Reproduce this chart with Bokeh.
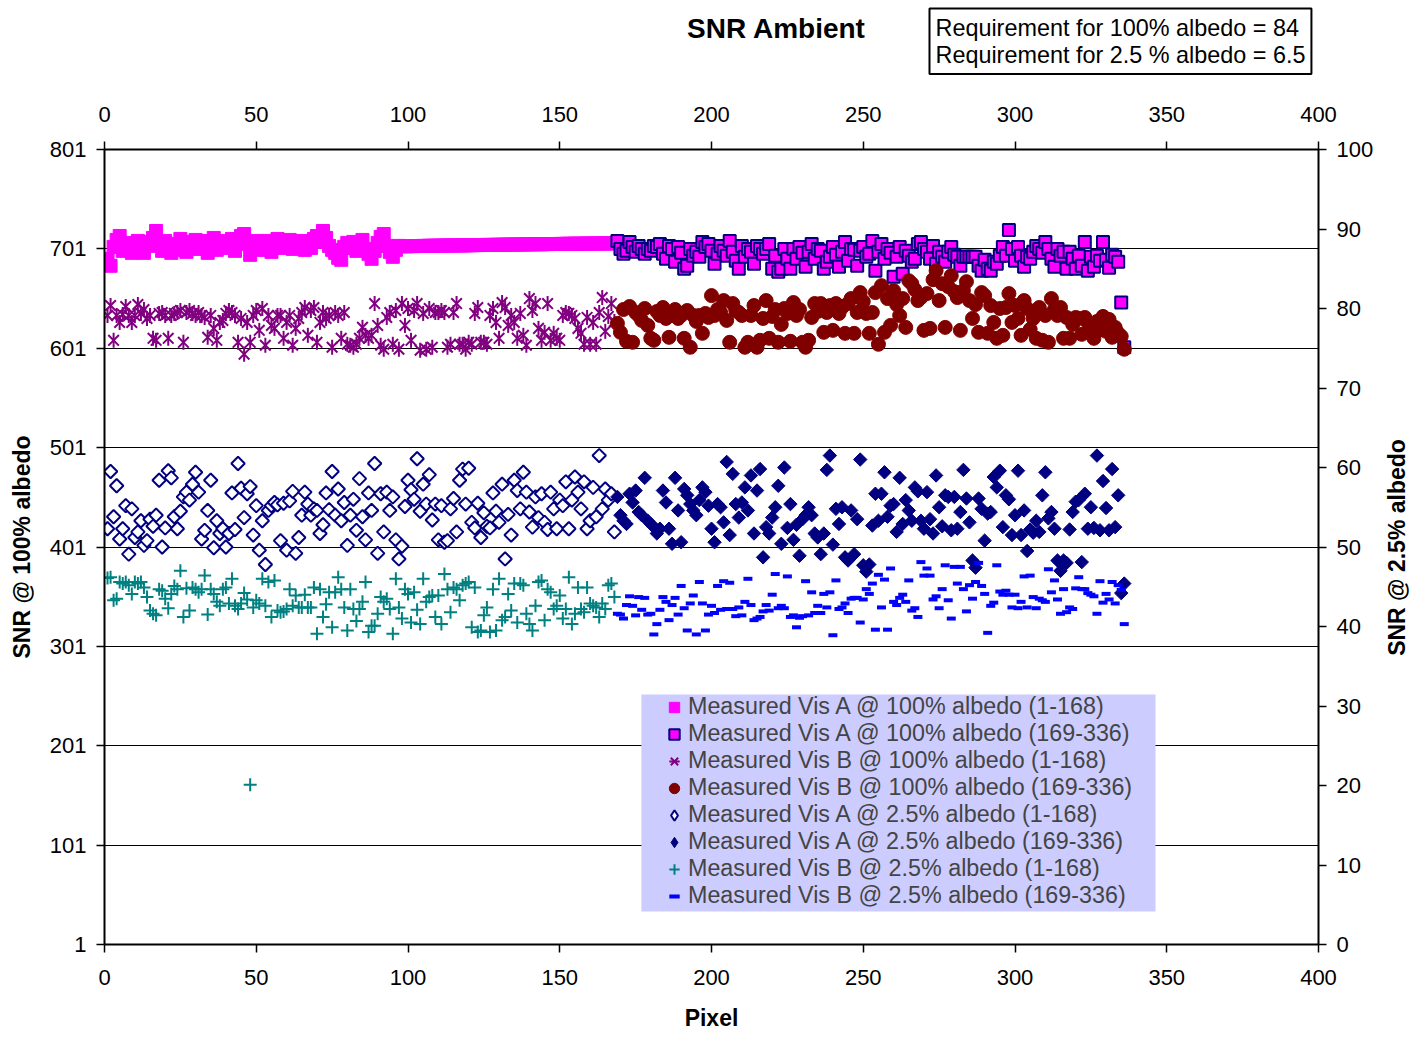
import math
from bokeh.plotting import figure
from bokeh.models import Range1d, LinearAxis, FixedTicker, Legend, LegendItem, Label, BoxAnnotation
from bokeh.embed import file_html
from bokeh.resources import INLINE

# ---------------- data ----------------
x_ticks = [0, 50, 100, 150, 200, 250, 300, 350, 400]
left_ticks = [1, 101, 201, 301, 401, 501, 601, 701, 801]
right_ticks = [0, 10, 20, 30, 40, 50, 60, 70, 80, 90, 100]

visA100_1 = [
    691, 684, 703, 710, 714, 699, 707, 703, 697, 706,
    709, 701, 697, 708, 704, 712, 719, 707, 699, 709,
    702, 697, 706, 700, 711, 704, 698, 708, 703, 710,
    701, 705, 709, 697, 706, 712, 700, 707, 702, 709,
    704, 711, 699, 706, 714, 716, 707, 695, 703, 709,
    700, 707, 703, 709, 698, 706, 711, 702, 708, 703,
    710, 701, 707, 704, 709, 700, 706, 702, 711, 714,
    708, 719, 712, 704, 700, 697, 692, 690, 703, 707,
    702, 708, 699, 705, 710, 701, 696, 691, 699, 707,
    713, 716, 704, 698, 693, 700, 704,
    703.6, 703.7, 703.7, 703.8, 703.8, 703.9, 703.9, 704.0, 704.0, 704.1,
    704.1, 704.2, 704.2, 704.3, 704.3, 704.4, 704.4, 704.5, 704.5, 704.5,
    704.6, 704.6, 704.7, 704.7, 704.8, 704.8, 704.9, 704.9, 705.0, 705.0,
    705.0, 705.1, 705.1, 705.2, 705.2, 705.3, 705.3, 705.4, 705.4, 705.4,
    705.5, 705.5, 705.6, 705.6, 705.7, 705.7, 705.7, 705.8, 705.8, 705.9,
    705.9, 705.9, 706.0, 706.0, 706.1, 706.1, 706.1, 706.2, 706.2, 706.2,
    706.3, 706.3, 706.3, 706.4, 706.4, 706.4, 706.5, 706.5, 706.5, 706.6, 706.6,
]

visA100_2 = [
    709, 701, 696, 699, 708, 703, 698, 704, 701, 696,
    701, 699, 704, 703, 706, 696, 691, 704, 701, 688,
    703, 697, 681, 684, 701, 694, 698, 693, 708, 703,
    706, 699, 686, 696, 704, 699, 694, 709, 698, 689,
    681, 704, 693, 701, 698, 686, 704, 701, 696, 701,
    706, 681, 694, 678, 681, 701, 691,
    681, 701, 691, 703, 697, 683, 698, 706, 691, 701,
    699, 681, 688, 693, 703, 695, 683, 698, 708, 689,
    701, 700, 684, 699, 703, 693, 696, 709, 679, 698,
    706, 691, 701, 697, 673, 693, 703, 676, 699, 694,
    688, 691, 706, 708, 701, 698, 691, 704, 686, 698,
    693, 688, 698, 703, 695, 693, 684, 693, 693, 693,
    693, 693, 684, 679, 690, 681, 679, 688, 686, 694,
    703, 694, 720, 701, 689, 703, 694, 683, 693, 691,
    698, 704, 701, 697, 708, 701, 691, 683, 701, 694,
    698, 681, 698, 691, 681, 694, 684, 708, 679, 693,
    683, 694, 689, 708, 690, 682, 695, 693, 688, 647,
    602,
]

visB100_1 = [
    634, 644, 609, 634, 627, 635, 643, 634, 627, 634,
    645, 636, 640, 631, 634, 611, 609, 636, 637, 634,
    611, 634, 636, 637, 639, 607, 637, 639, 636, 634,
    637, 634, 632, 612, 634, 621, 609, 627, 629, 636,
    639, 637, 634, 607, 631, 595, 627, 607, 634, 639,
    619, 641, 604, 634, 624, 621, 634, 634, 611, 627,
    634, 604, 621, 631, 637, 642, 614, 639, 642, 607,
    627, 637, 631, 634, 602, 637, 634, 611, 637, 605,
    604, 602, 605, 611, 622, 614, 611, 614, 646, 624,
    604, 600, 632, 637, 605, 639, 600, 646, 624, 641,
    609, 639, 646, 599, 636, 600, 641, 602, 637, 637,
    639, 637, 602, 605, 637, 646, 605, 605, 600, 607,
    605, 636, 642, 607, 607, 605, 634, 641, 627, 611,
    647, 642, 624, 634, 627, 611, 636, 614, 604, 651,
    639, 646, 621, 609, 617, 646, 609, 616, 611, 609,
    634, 637, 636, 634, 631, 621, 616, 605, 632, 605,
    627, 605, 637, 652, 618, 633, 646, 628,
]

visB100_2 = [
    626, 617, 640, 608, 643, 607, 637, 634, 629, 641,
    624, 611, 609, 638, 634, 642, 631, 612, 636, 640,
    631, 634, 611, 639, 602, 634, 628, 634, 616, 636,
    632, 654, 634, 640, 637, 649, 629, 607, 646, 639,
    637, 634, 602, 607, 634, 644, 602, 609, 631, 649,
    611, 633, 640, 607, 625, 641, 636, 608,
    647, 634, 640, 607, 602, 609, 632, 646, 638, 646,
    617, 637, 644, 619, 646, 636, 642, 616, 646, 651,
    616, 637, 657, 648, 636, 616, 637, 657, 605, 664,
    617, 651, 624, 659, 645, 634, 651, 622, 669, 666,
    660, 649, 652, 619, 656, 621, 670, 679, 649, 666,
    622, 663, 674, 658, 652, 619, 659, 668, 649, 631,
    645, 617, 657, 654, 616, 644, 627, 611, 641, 614,
    642, 656, 627, 644, 631, 614, 649, 641, 620, 631,
    611, 642, 609, 634, 607, 651, 640, 634, 642, 611,
    632, 611, 625, 632, 631, 615, 632, 627, 616, 611,
    628, 620, 633, 618, 630, 612, 622, 616, 613, 600,
]

visA25_1 = [
    52.3, 59.5, 53.8, 57.7, 51.0, 52.3, 55.2, 49.1, 54.8, 51.2,
    51.9, 53.3, 50.2, 50.8, 53.5, 52.6, 54.0, 58.4, 50.0, 52.4,
    59.6, 58.7, 53.8, 52.3, 54.5, 56.3, 56.9, 55.9, 57.9, 59.4,
    56.9, 51.0, 52.1, 54.6, 58.4, 49.9, 53.3, 51.7, 52.3, 50.0,
    51.7, 56.8, 52.2, 60.5, 57.4, 53.7, 56.7, 57.6, 51.5, 55.2,
    49.6, 53.3, 47.8, 54.6, 55.2, 55.6, 55.3, 50.8, 55.5, 49.6,
    55.8, 57.0, 49.2, 51.2, 54.0, 56.9, 55.4, 54.0, 54.8, 54.6,
    51.7, 52.8, 56.8, 54.7, 59.5, 54.0, 57.3, 53.3, 55.6, 50.2,
    54.0, 56.0, 52.1, 58.6, 53.8, 50.9, 56.8, 54.6, 60.5, 49.2,
    56.7, 51.9, 56.9, 54.6, 56.3, 50.9, 48.5, 50.1, 55.1, 58.4,
    57.2, 56.0, 61.1, 54.5, 57.9, 55.4, 59.1, 53.4, 55.4, 50.9,
    55.2, 50.6,
    50.8, 54.8, 56.1, 51.9, 58.4, 59.8, 55.4, 59.9, 53.1, 52.4,
    55.5, 51.2, 54.3, 52.6, 52.4, 56.8, 54.5, 53.1, 57.9, 48.5,
    54.1, 51.5, 58.4, 57.1, 54.8, 59.4, 56.9, 54.4, 52.5, 56.3,
    53.7, 56.7, 53.1, 52.2, 56.9, 54.8, 52.3, 55.9, 55.2, 58.2,
    52.3, 55.9, 58.8, 56.9, 54.8, 58.2, 52.3, 53.3, 57.5, 53.8,
    61.5, 54.8, 57.3, 55.9, 56.7, 51.9,
]

visA25_2 = [
    56.3, 54.0, 53.3, 52.9, 56.7, 55.6, 57.1, 54.4, 54.0, 58.7,
    53.3, 52.9, 52.5, 51.7, 52.3, 57.1, 55.6, 52.3, 50.4, 58.7,
    54.6, 50.6, 57.3, 56.5, 55.4, 54.6, 54.0, 55.9, 57.5, 56.9,
    55.2, 52.3, 50.6, 55.4, 55.0, 53.1, 60.7, 51.5, 59.2, 55.4,
    53.7, 55.6, 57.5, 54.6, 59.0, 51.7, 57.1, 59.8, 48.7, 52.5,
    51.7, 53.7, 55.0, 57.7, 50.4, 60.0,
    52.4, 55.4, 50.9, 52.8, 48.9, 53.5, 54.0, 55.0, 54.0, 51.7,
    51.2, 49.1, 51.7, 59.7, 61.5, 50.3, 54.8, 52.9, 55.0, 48.7,
    48.3, 54.6, 49.1, 53.5, 61.0, 47.7, 46.9, 47.8, 52.7, 56.7,
    53.3, 56.7, 59.4, 53.8, 55.2, 55.4, 51.9, 58.7, 52.9, 55.9,
    54.6, 53.3, 57.5, 57.0, 53.3, 52.3, 56.9, 53.5, 51.7, 59.0,
    55.0, 52.6, 56.5, 56.3, 52.1, 56.3, 52.3, 54.4, 59.7, 56.1,
    53.1, 48.3, 47.4, 56.1, 54.8, 50.8, 54.2, 54.4, 58.8, 57.5,
    59.6, 52.5, 56.5, 56.0, 51.5, 54.0, 59.6, 51.5, 54.6, 49.5,
    52.2, 51.8, 53.3, 51.9, 56.5, 59.4, 53.6, 54.4, 52.3, 48.3,
    47.0, 48.3, 48.0, 52.2, 54.4, 55.7, 55.9, 48.1, 56.7, 52.3,
    55.0, 52.4, 61.5, 52.1, 58.3, 54.9, 52.1, 59.8, 52.5, 56.5,
    44.2, 45.4,
]

visB25_1 = [
    46.1, 46.2, 43.3, 43.5, 45.6, 45.4, 45.6, 45.2, 44.1, 45.6,
    45.4, 45.6, 44.9, 43.7, 42.0, 41.6, 41.4, 44.7, 44.5, 43.5,
    42.3, 44.1, 45.1, 44.7, 47.0, 41.2, 44.8, 42.0, 44.9, 44.7,
    44.3, 44.7, 46.4, 41.5, 44.7, 44.1, 43.1, 42.6, 44.7, 44.9,
    42.9, 46.0, 42.6, 42.2, 42.9, 44.2, 43.4, 20.1, 42.4, 43.3,
    42.9, 46.0, 42.6, 45.6, 41.2, 45.8, 42.0, 41.8, 41.9, 42.2,
    44.7, 42.6, 43.9, 42.4, 42.4, 44.0, 42.4, 42.4, 44.9, 39.1,
    44.7, 41.2, 42.8, 44.3, 39.9, 44.3, 46.2, 44.7, 42.4, 39.5,
    44.7, 42.2, 40.7, 42.2, 43.1, 45.6, 39.3, 40.1, 40.1, 41.6,
    43.7, 43.1, 43.5, 42.2, 39.1, 46.0, 42.4, 41.0, 44.7, 44.1,
    40.5, 44.3, 42.1, 40.3, 46.0, 43.1, 43.7, 43.9, 41.2, 43.9,
    40.3, 46.6, 44.7, 41.8, 44.9, 44.7, 43.3, 45.2, 45.4, 45.6,
    39.9, 44.9, 39.3, 39.5, 41.4, 42.4, 39.3, 44.7, 39.5, 46.0,
    40.8, 41.2, 44.1, 42.0, 45.4, 40.5, 45.4, 45.2, 41.6, 40.3,
    39.5, 42.6, 45.6, 45.8, 40.8, 44.7, 44.3, 42.2, 42.6, 43.9,
    41.0, 42.2, 46.2, 40.3, 41.6, 44.9, 42.2, 41.8, 44.9, 42.9,
    42.6, 42.4, 41.2, 42.9, 42.2, 45.2, 45.4, 43.7,
]

visB25_2 = [
    41.6, 41.5, 41.0, 42.7, 43.8, 42.6, 41.4, 43.7, 42.1, 43.6,
    41.5, 41.6, 39.0, 40.3, 42.1, 43.7, 43.1, 40.8, 42.7, 43.6,
    41.5, 45.1, 42.3, 39.5, 42.9, 43.9, 39.0, 45.6, 42.9, 39.5,
    41.5, 42.6, 41.7, 45.1, 42.1, 45.7, 42.2, 45.5, 42.2, 41.3,
    42.4, 41.4, 43.1, 46.0, 42.7, 40.8, 41.0, 41.2, 41.9, 42.7,
    42.0, 44.0, 46.6, 42.3,
    42.6, 42.3, 46.3, 41.2, 41.4, 39.9, 41.1, 41.3, 45.7, 41.4,
    44.3, 41.7, 42.6, 41.7, 44.1, 42.4, 44.3, 38.9, 45.8, 42.2,
    42.4, 42.9, 41.7, 43.5, 43.6, 43.6, 40.5, 43.4, 44.7, 44.1,
    45.4, 39.6, 46.5, 42.4, 45.9, 39.6, 47.3, 43.1, 42.7, 43.6,
    44.0, 43.1, 45.8, 42.0, 42.3, 41.2, 48.1, 46.4, 47.3, 46.4,
    43.4, 43.8, 42.3, 44.7, 47.7, 43.3, 41.0, 47.5, 45.4, 47.5,
    44.7, 41.9, 45.2, 43.5, 45.6, 48.0, 45.1, 44.1, 39.2, 42.6,
    43.0, 47.7, 44.4, 44.0, 44.5, 44.0, 42.4, 44.0, 42.3, 43.1,
    46.3, 42.4, 46.4, 43.7, 42.3, 43.5, 43.3, 43.1, 47.2, 44.3,
    45.8, 43.4, 41.6, 44.7, 41.8, 42.4, 42.2, 44.8, 46.2, 44.7,
    44.7, 44.2, 44.0, 43.8, 41.6, 45.7, 43.0, 44.1, 43.4, 45.6,
    42.9, 45.2, 44.6, 40.3,
]

labels = [
    "Measured Vis A @ 100% albedo (1-168)",
    "Measured Vis A @ 100% albedo (169-336)",
    "Measured Vis B @ 100% albedo (1-168)",
    "Measured Vis B @ 100% albedo (169-336)",
    "Measured Vis A @ 2.5% albedo (1-168)",
    "Measured Vis A @ 2.5% albedo (169-336)",
    "Measured Vis B @ 2.5% albedo (1-168)",
    "Measured Vis B @ 2.5% albedo (169-336)",
]

def first(vals):
    return list(range(1, 1 + len(vals)))

def second(vals):
    return list(range(169, 169 + len(vals)))

FONT = "Liberation Sans"

p = figure(width=1416, height=1037, x_range=Range1d(0, 400), y_range=Range1d(1, 801),
           output_backend="svg", toolbar_location=None,
           min_border_left=104, min_border_right=98, min_border_top=149, min_border_bottom=93)
p.extra_y_ranges = {"right": Range1d(0, 100)}
p.outline_line_color = None
p.background_fill_color = "white"
p.border_fill_color = "white"

p.xgrid.visible = False
p.ygrid.ticker = FixedTicker(ticks=left_ticks)
p.ygrid.grid_line_color = "#000000"
p.ygrid.grid_line_width = 1

bottom_axis = p.below[0]
left_axis = p.left[0]
top_axis = LinearAxis()
right_axis = LinearAxis(y_range_name="right")
p.add_layout(top_axis, "above")
p.add_layout(right_axis, "right")

bottom_axis.ticker = FixedTicker(ticks=x_ticks)
top_axis.ticker = FixedTicker(ticks=x_ticks)
left_axis.ticker = FixedTicker(ticks=left_ticks)
right_axis.ticker = FixedTicker(ticks=right_ticks)
bottom_axis.axis_label = "Pixel"
left_axis.axis_label = "SNR @ 100% albedo"

for ax in [bottom_axis, left_axis, top_axis, right_axis]:
    ax.axis_line_color = "black"
    ax.axis_line_width = 2
    ax.major_tick_line_color = "black"
    ax.major_tick_line_width = 1.5
    ax.major_tick_out = 8
    ax.major_tick_in = 0
    ax.minor_tick_line_color = None
    ax.major_label_text_font = FONT
    ax.major_label_text_font_size = "22px"
    ax.major_label_text_color = "black"
    ax.axis_label_text_font = FONT
    ax.axis_label_text_font_size = "23px"
    ax.axis_label_text_font_style = "bold"
    ax.axis_label_text_color = "black"
    ax.major_label_standoff = 10
    ax.axis_label_standoff = 12
top_axis.major_label_standoff = 20
bottom_axis.major_label_standoff = 17
bottom_axis.axis_label_standoff = 17

# ----- series -----
r1 = p.scatter(first(visA100_1), visA100_1, marker="square", size=13,
               fill_color="#FF00FF", line_color="#FF00FF")
r2 = p.scatter(second(visA100_2), visA100_2, marker="square", size=12,
               fill_color="#FF00FF", line_color="#000080", line_width=2)
r3a = p.scatter(first(visB100_1), visB100_1, marker="x", size=15,
                line_color="#800080", line_width=2)
r3b = p.scatter(first(visB100_1), visB100_1, marker="dash", size=15,
                angle=math.pi / 2, line_color="#800080", line_width=2)
r4 = p.scatter(second(visB100_2), visB100_2, marker="circle", size=14,
               fill_color="#800000", line_color="#800000")
r5 = p.scatter(first(visA25_1), visA25_1, marker="square", angle=math.pi / 4,
               size=9.5, fill_color="white", line_color="#000080", line_width=2,
               y_range_name="right")
r6 = p.scatter(second(visA25_2), visA25_2, marker="square", angle=math.pi / 4,
               size=9.5, fill_color="#000080", line_color="#000080", line_width=1,
               y_range_name="right")
r7 = p.scatter(first(visB25_1), visB25_1, marker="cross", size=13,
               line_color="#008080", line_width=2, y_range_name="right")
r8 = p.scatter(second(visB25_2), visB25_2, marker="dash", size=9,
               line_color="#0000FF", line_width=4, y_range_name="right")

# legend-only glyphs for the diamonds (legend swatches are drawn unrotated)
leg5 = p.scatter([-100], [-100], marker="diamond", size=10, fill_color="white",
                 line_color="#000080", line_width=2)
leg6 = p.scatter([-100], [-100], marker="diamond", size=10, fill_color="#000080",
                 line_color="#000080", line_width=1)

# lavender legend panel
legend_bg = BoxAnnotation(left=176.9, right=346.3, bottom=34.2, top=252.6,
                          fill_color="#CCCCFF", fill_alpha=1.0, line_color=None)
p.add_layout(legend_bg)

items = [
    LegendItem(label=labels[0], renderers=[r1]),
    LegendItem(label=labels[1], renderers=[r2]),
    LegendItem(label=labels[2], renderers=[r3a, r3b]),
    LegendItem(label=labels[3], renderers=[r4]),
    LegendItem(label=labels[4], renderers=[leg5]),
    LegendItem(label=labels[5], renderers=[leg6]),
    LegendItem(label=labels[6], renderers=[r7]),
    LegendItem(label=labels[7], renderers=[r8]),
]
legend = Legend(items=items, location=(556, 35), margin=0, padding=0,
                glyph_width=28, glyph_height=26, label_height=26, spacing=0,
                label_standoff=0,
                label_text_font=FONT, label_text_font_size="23.3px",
                label_text_line_height=1.0,
                background_fill_alpha=0.0, border_line_color=None)
p.add_layout(legend, "center")

title = Label(x=672, y=75, x_units="screen", y_units="screen", text="SNR Ambient",
              text_font=FONT, text_font_style="bold", text_font_size="28px",
              text_align="center", text_baseline="middle", text_color="black")
req = Label(x=825, y=64, x_units="screen", y_units="screen",
            text="Requirement for 100% albedo = 84\nRequirement for 2.5 % albedo = 6.5",
            text_font=FONT, text_font_size="23.4px", text_align="left", text_baseline="top",
            text_line_height=1.06,
            text_color="black", border_line_color="black", border_line_width=2,
            background_fill_color="white", padding=6)
p.add_layout(title, "above")
p.add_layout(req, "above")

right_title = Label(x=20, y=397, x_units="screen", y_units="screen",
                    text="SNR @ 2.5% albedo", angle=math.pi / 2,
                    text_font=FONT, text_font_style="bold", text_font_size="23px",
                    text_align="center", text_baseline="middle", text_color="black")
p.add_layout(right_title, "right")

for name, arr in [("a1", visA100_1), ("a2", visA100_2), ("b1", visB100_1), ("b2", visB100_2),
                  ("c1", visA25_1), ("c2", visA25_2), ("d1", visB25_1), ("d2", visB25_2)]:
    assert len(arr) == 168, (name, len(arr))

open("out.html", "w").write(file_html(p, INLINE))
